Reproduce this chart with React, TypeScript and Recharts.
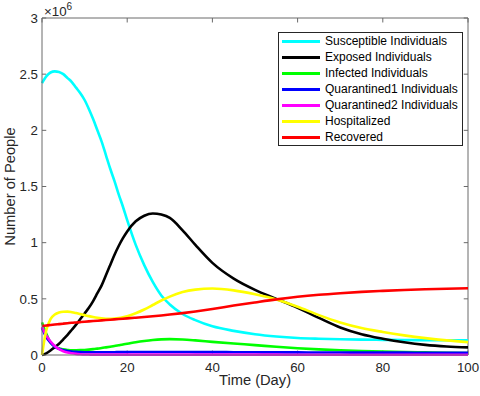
import React from "react"
import { Line, LineChart, ReferenceLine, XAxis, YAxis } from "recharts"

// time in days; all values in millions of people
const time = [0, 1, 2, 3, 4, 5, 6, 7, 8, 9, 10, 11, 12, 13, 14, 15, 16, 17, 18, 19, 20, 22, 24, 26, 28, 30, 33, 36, 40, 45, 50, 55, 60, 65, 70, 75, 80, 85, 90, 95, 100]

const susceptible = [2.42, 2.48, 2.515, 2.525, 2.52, 2.5, 2.465, 2.43, 2.38, 2.33, 2.27, 2.19, 2.1, 2.0, 1.9, 1.78, 1.66, 1.55, 1.43, 1.32, 1.2, 0.98, 0.8, 0.65, 0.53, 0.45, 0.365, 0.31, 0.255, 0.215, 0.185, 0.165, 0.152, 0.145, 0.14, 0.137, 0.135, 0.133, 0.132, 0.131, 0.13]
const exposed = [0, 0.015, 0.04, 0.07, 0.1, 0.14, 0.18, 0.225, 0.27, 0.32, 0.37, 0.42, 0.48, 0.55, 0.62, 0.71, 0.8, 0.89, 0.97, 1.04, 1.1, 1.19, 1.24, 1.26, 1.25, 1.22, 1.11, 0.98, 0.82, 0.68, 0.58, 0.5, 0.42, 0.33, 0.245, 0.185, 0.145, 0.113, 0.09, 0.076, 0.068]
const infected = [0.29, 0.19, 0.11, 0.075, 0.058, 0.05, 0.045, 0.042, 0.042, 0.043, 0.045, 0.048, 0.052, 0.057, 0.062, 0.068, 0.074, 0.08, 0.087, 0.094, 0.1, 0.113, 0.124, 0.133, 0.139, 0.141, 0.138, 0.13, 0.117, 0.102, 0.088, 0.073, 0.06, 0.05, 0.042, 0.035, 0.03, 0.026, 0.023, 0.02, 0.018]
const quarantined1 = [0.24, 0.16, 0.11, 0.075, 0.055, 0.043, 0.036, 0.031, 0.028, 0.026, 0.025, 0.025, 0.025, 0.025, 0.025, 0.025, 0.025, 0.025, 0.026, 0.026, 0.026, 0.027, 0.027, 0.027, 0.027, 0.027, 0.027, 0.026, 0.026, 0.025, 0.024, 0.023, 0.023, 0.022, 0.022, 0.021, 0.021, 0.021, 0.02, 0.02, 0.02]
const quarantined2 = [0.25, 0.175, 0.12, 0.08, 0.052, 0.034, 0.022, 0.015, 0.01, 0.007, 0.005, 0.004, 0.003, 0.003, 0.003, 0.003, 0.003, 0.003, 0.003, 0.003, 0.003, 0.003, 0.003, 0.003, 0.003, 0.003, 0.003, 0.003, 0.003, 0.003, 0.003, 0.003, 0.002, 0.002, 0.002, 0.002, 0.002, 0.002, 0.002, 0.002, 0.002]
const hospitalized = [0, 0.22, 0.32, 0.36, 0.378, 0.385, 0.386, 0.381, 0.373, 0.364, 0.355, 0.346, 0.338, 0.331, 0.326, 0.323, 0.322, 0.324, 0.328, 0.335, 0.345, 0.372, 0.405, 0.445, 0.485, 0.52, 0.56, 0.582, 0.592, 0.575, 0.54, 0.495, 0.43, 0.355, 0.29, 0.24, 0.205, 0.175, 0.15, 0.13, 0.115]
const recovered = [0.26, 0.263, 0.267, 0.271, 0.275, 0.279, 0.283, 0.287, 0.29, 0.293, 0.296, 0.299, 0.302, 0.305, 0.308, 0.311, 0.314, 0.317, 0.32, 0.323, 0.326, 0.332, 0.338, 0.345, 0.352, 0.36, 0.373, 0.388, 0.41, 0.44, 0.468, 0.495, 0.518, 0.536, 0.55, 0.562, 0.571, 0.579, 0.585, 0.59, 0.594]

const xTicks = [0, 20, 40, 60, 80, 100]
const yTicks = [0, 0.5, 1, 1.5, 2, 2.5, 3]

const series = [
  { key: "S", name: "Susceptible Individuals", color: "#00ffff", values: susceptible },
  { key: "E", name: "Exposed Individuals", color: "#000000", values: exposed },
  { key: "I", name: "Infected Individuals", color: "#00ff00", values: infected },
  { key: "Q1", name: "Quarantined1 Individuals", color: "#0000ff", values: quarantined1 },
  { key: "Q2", name: "Quarantined2 Individuals", color: "#ff00ff", values: quarantined2 },
  { key: "H", name: "Hospitalized", color: "#ffff00", values: hospitalized },
  { key: "R", name: "Recovered", color: "#ff0000", values: recovered },
]

const data = time.map((t, i) => {
  const row: Record<string, number> = { t }
  series.forEach((s) => (row[s.key] = s.values[i]))
  return row
})

const font = "'Liberation Sans', Arial, sans-serif"
const textColor = "#262626"
const lineColor = "#6a6a6a"

// MATLAB-style inward tick length, in data units
const xTickLen = 0.04
const yTickLen = 1

function LegendBox() {
  return (
    <div
      style={{
        position: "absolute",
        left: 278,
        top: 32,
        background: "#fff",
        border: `1px solid ${textColor}`,
        width: 185,
        boxSizing: "border-box",
        fontFamily: font,
        fontSize: 12,
        color: "#000",
      }}
    >
      {series.map((s) => (
        <div key={s.key} style={{ display: "flex", alignItems: "center", height: 16 }}>
          <div style={{ width: 38, height: 3, background: s.color, marginLeft: 3, marginRight: 5 }} />
          <span style={{ whiteSpace: "nowrap" }}>{s.name}</span>
        </div>
      ))}
    </div>
  )
}

export default function App() {
  return (
    <div style={{ position: "absolute", left: 0, top: 0, width: 480, height: 396, background: "#fff" }}>
      <LineChart width={480} height={396} data={data} margin={{ top: 18, right: 12, bottom: 11, left: 0 }}>
        <XAxis
          dataKey="t"
          type="number"
          domain={[0, 100]}
          ticks={xTicks}
          tickLine={false}
          tickSize={6}
          tickMargin={2}
          height={30}
          stroke={lineColor}
          tick={{ fill: textColor, fontSize: 13.3, fontFamily: font }}
          label={{ value: "Time (Day)", position: "insideBottom", offset: 0, fill: textColor, fontSize: 14.7, fontFamily: font }}
        />
        <YAxis
          type="number"
          domain={[0, 3]}
          ticks={yTicks}
          width={42}
          tickLine={false}
          tickSize={2}
          tickMargin={2}
          stroke={lineColor}
          tick={{ fill: textColor, fontSize: 13.3, fontFamily: font }}
          label={{ value: "Number of People", angle: -90, position: "insideLeft", offset: 10, style: { textAnchor: "middle" }, fill: textColor, fontSize: 14.7, fontFamily: font }}
        />
        <ReferenceLine y={3} stroke={lineColor} />
        <ReferenceLine x={100} stroke={lineColor} />
        {xTicks.map((x) => (
          <ReferenceLine key={"b" + x} segment={[{ x, y: 0 }, { x, y: xTickLen }]} stroke={lineColor} />
        ))}
        {xTicks.map((x) => (
          <ReferenceLine key={"t" + x} segment={[{ x, y: 3 }, { x, y: 3 - xTickLen }]} stroke={lineColor} />
        ))}
        {yTicks.map((y) => (
          <ReferenceLine key={"l" + y} segment={[{ x: 0, y }, { x: yTickLen, y }]} stroke={lineColor} />
        ))}
        {yTicks.map((y) => (
          <ReferenceLine key={"r" + y} segment={[{ x: 100, y }, { x: 100 - yTickLen, y }]} stroke={lineColor} />
        ))}
        {series.map((s) => (
          <Line
            key={s.key}
            type="monotone"
            dataKey={s.key}
            name={s.name}
            stroke={s.color}
            strokeWidth={2.6}
            dot={false}
            isAnimationActive={false}
          />
        ))}
      </LineChart>
      <LegendBox />
      <div style={{ position: "absolute", left: 44, top: 4, fontFamily: font, fontSize: 13.3, color: textColor, lineHeight: "15px" }}>
        ×10<span style={{ fontSize: 10, position: "relative", top: -6 }}>6</span>
      </div>
    </div>
  )
}
